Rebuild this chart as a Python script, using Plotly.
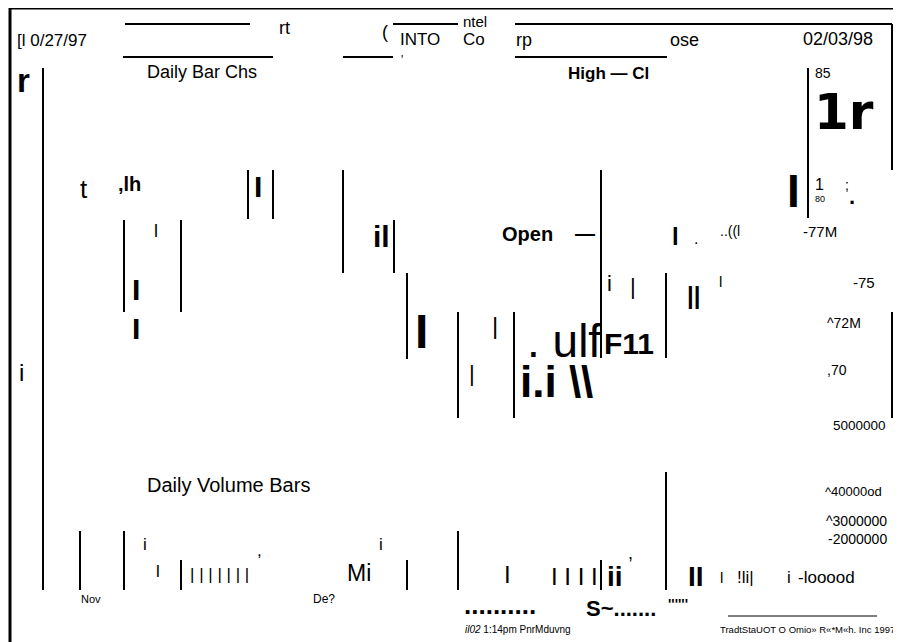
import plotly.graph_objects as go

# ---------------- data (text content) ----------------
header_texts = ["[l 0/27/97", "rt", "(", "INTO", "'", "ntel", "Co", "rp", "ose", "02/03/98"]
chart_titles = ["Daily Bar Chs", "High — Cl", "r", "Open", "—", "Daily Volume Bars"]
price_scale_labels = ["85", "1r", "1", "80", ";", ".", "-77M", "-75", "^72M", ",70"]
volume_scale_labels = ["5000000", "^40000od", "^3000000", "-2000000", "-looood"]
month_labels = ["Nov", "De?"]
footer_texts = ["..........", "S~.......", "''''''", "<i>il02</i> 1:14pm PnrMduvng",
                "TradtStaUOT O Omio» R«*M«h. Inc 1997"]
price_glyphs = ["t", ",lh", "I", "l", "il", "I", "I", "i", "I", "I", "l", ".", "..((l",
                "i", "|", "||", "l", "|", "|", ". ulf", "F11", "i.i \\\\"]
volume_glyphs = ["i", "l", "| | | | | | |", ",", "i", "Mi", "I", "I I I I", "ii", ",",
                 "II", "l", "!li|", "i"]

# ---------------- placement / style (left x, centre y, size, bold) ----------------
header_pos = [(16, 40, 17, 0), (278, 28, 18, 0), (381, 32, 18, 0), (399, 39, 17, 0),
              (400, 60, 12, 0), (462, 21, 15, 0), (462, 39, 17, 0), (515, 40, 18, 0),
              (669, 40, 18, 0), (802, 39, 18, 0)]
title_pos = [(146, 72, 18, 0), (567, 73, 17, 1), (16, 80, 33, 1), (501, 234, 20, 1),
             (574, 233, 20, 1), (146, 485, 20, 0)]
price_scale_pos = [(814, 73, 14, 0), (813, 112, 50, 2), (814, 184, 16, 0), (814, 199, 9, 0),
                   (844, 185, 14, 0), (848, 196, 22, 1), (802, 231, 15, 0), (852, 282, 15, 0),
                   (826, 323, 14, 0), (826, 370, 14, 0)]
volume_scale_pos = [(832, 425, 13.5, 0), (824, 491, 13, 0), (825, 521, 14, 0),
                    (827, 539, 14, 0), (797, 577, 17, 0)]
month_pos = [(80, 599, 11, 0), (312, 599, 12, 0)]
footer_pos = [(463, 605, 26, 1), (585, 608, 22, 1), (667, 604, 14, 1), (464, 629, 10, 0),
              (719, 629, 9.5, 0)]
price_glyph_pos = [(79, 189, 26, 0), (117, 184, 20, 1), (253, 186, 30, 1), (153, 231, 18, 0),
                   (372, 236, 30, 1), (131, 289, 30, 1), (131, 328, 30, 1), (18, 372, 24, 0),
                   (414, 331, 48, 1), (786, 191, 46, 1), (671, 236, 24, 1), (693, 238, 16, 0),
                   (719, 231, 14, 0), (606, 283, 22, 0), (629, 286, 22, 0), (686, 295, 24, 1),
                   (718, 281, 15, 0), (491, 325, 24, 0), (468, 373, 22, 0), (526, 341, 46, 0),
                   (603, 343, 30, 1), (519, 381, 44, 1)]
volume_glyph_pos = [(142, 544, 17, 0), (155, 571, 17, 0), (189, 574, 17, 0), (256, 550, 17, 0),
                    (378, 544, 17, 0), (346, 573, 23, 0), (503, 574, 24, 0), (550, 576, 24, 0),
                    (606, 576, 28, 1), (627, 553, 18, 0), (687, 576, 28, 1), (719, 577, 15, 0),
                    (736, 577, 17, 0), (786, 577, 17, 0)]

# rules: (x0, y0, x1, y1, width)
rules = [
    (10, 8, 901, 8, 3), (10, 8, 10, 642, 3),
    (125, 24, 250, 24, 2), (123, 57, 273, 57, 2), (343, 57, 393, 57, 2),
    (393, 24, 458, 24, 2), (515, 24, 892, 24, 2), (515, 57, 667, 57, 2),
    (728, 616, 877, 616, 1),
    (43, 68, 43, 590, 2), (808, 68, 808, 218, 2), (892, 24, 892, 170, 2),
    (248, 170, 248, 219, 2), (273, 170, 273, 219, 2), (343, 170, 343, 273, 2),
    (394, 220, 394, 273, 2), (124, 220, 124, 312, 2), (181, 220, 181, 312, 2),
    (407, 273, 407, 359, 2), (601, 170, 601, 358, 2), (666, 273, 666, 358, 2),
    (892, 312, 892, 418, 2), (458, 312, 458, 418, 2), (514, 312, 514, 418, 2),
    (80, 531, 80, 590, 2), (124, 531, 124, 590, 2), (181, 560, 181, 590, 2),
    (407, 560, 407, 590, 2), (458, 531, 458, 590, 2), (601, 560, 601, 590, 2),
    (666, 472, 666, 590, 2),
]

FONT = "Liberation Sans, Arial, Helvetica, sans-serif"
HEAVY = "DejaVu Sans, Liberation Sans, Arial, sans-serif"

# the page body adds an 8px margin, so the drawing area starts at page pixel 8
OFF = 8
W, H = 901, 642

fig = go.Figure()
fig.add_trace(go.Scatter(x=[OFF, W], y=[OFF, H], mode="markers",
                         marker=dict(opacity=0), hoverinfo="skip", showlegend=False))

def put(texts, positions):
    for t, (x, y, s, b) in zip(texts, positions):
        fam = HEAVY if b == 2 else FONT
        txt = f"<b>{t}</b>" if b else t
        fig.add_annotation(x=x, y=y, xref="x", yref="y", text=txt, showarrow=False,
                           xanchor="left", yanchor="middle", borderpad=0,
                           font=dict(family=fam, size=s, color="black"))

for group in [(header_texts, header_pos), (chart_titles, title_pos),
              (price_scale_labels, price_scale_pos), (volume_scale_labels, volume_scale_pos),
              (month_labels, month_pos), (footer_texts, footer_pos),
              (price_glyphs, price_glyph_pos), (volume_glyphs, volume_glyph_pos)]:
    put(*group)

for x0, y0, x1, y1, w in rules:
    fig.add_shape(type="line", x0=x0, y0=y0, x1=x1, y1=y1, xref="x", yref="y",
                  line=dict(color="black", width=w))

fig.update_layout(width=W - OFF, height=H - OFF, autosize=False,
                  margin=dict(l=0, r=0, t=0, b=0),
                  paper_bgcolor="white", plot_bgcolor="white",
                  xaxis=dict(range=[OFF, W], visible=False, fixedrange=True),
                  yaxis=dict(range=[H, OFF], visible=False, fixedrange=True),
                  showlegend=False)

fig.write_html("out.html")
